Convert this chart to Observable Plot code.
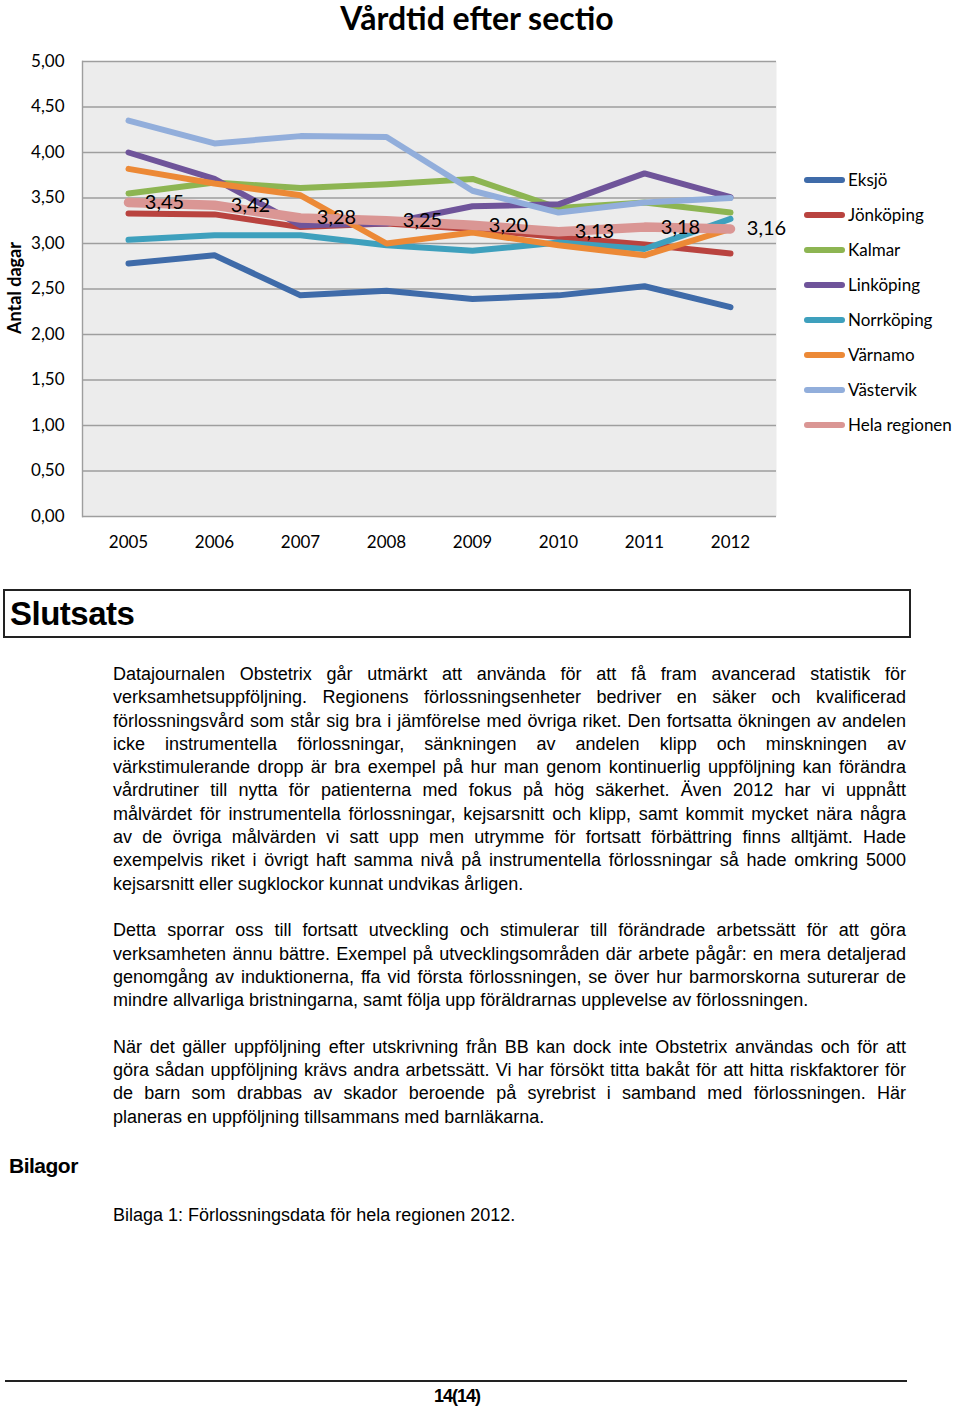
<!DOCTYPE html>
<html lang="sv">
<head>
<meta charset="utf-8">
<script src="https://cdn.jsdelivr.net/npm/d3@7"></script>
<script src="https://cdn.jsdelivr.net/npm/@observablehq/plot@0.6"></script>
<style>
  html, body { margin: 0; padding: 0; background: #fff; }
  body { width: 960px; height: 1410px; position: relative; overflow: hidden; }
  .abs { position: absolute; }
  #title { left: 0; top: -1px; width: 954px; text-align: center; font-family: Lato, sans-serif; font-weight: bold; font-size: 32px; line-height: 38px; color: #000; }
  #chart { left: 0; top: 40px; }
  #ylabel { left: 14px; top: 288px; transform: translate(-50%, -50%) rotate(-90deg); white-space: nowrap; font-family: Lato, sans-serif; font-weight: bold; font-size: 18px; color: #000; }
  #legend { left: 804px; top: 162px; font-family: Lato, sans-serif; font-size: 17px; color: #000; }
  .lg-row { display: flex; align-items: center; height: 35px; }
  .lg-sw { width: 41px; height: 6px; border-radius: 3px; margin-right: 3px; }
  #slutsats { left: 3px; top: 589px; width: 904px; height: 45px; border: 2px solid #222; }
  #slutsats span { position: absolute; left: 5px; top: 3px; font-family: "Liberation Sans", Arial, sans-serif; font-weight: bold; font-size: 33px; line-height: 40px; letter-spacing: -0.5px; }
  .body { left: 113px; width: 793px; font-family: "Liberation Sans", Arial, sans-serif; font-size: 18px; line-height: 23.3px; color: #000; }
  .ln { white-space: nowrap; text-align: justify; text-align-last: justify; height: 23.3px; }
  .ln.last { text-align: left; text-align-last: left; }
  .blank { height: 23.3px; }
  #bilagor { left: 9px; top: 1154px; font-family: "Liberation Sans", Arial, sans-serif; font-weight: bold; font-size: 21px; letter-spacing: -0.5px; }
  #hr { left: 5px; top: 1380px; width: 902px; height: 0; border-top: 2px solid #222; }
  #page { left: 0; width: 914px; top: 1386px; text-align: center; font-family: "Liberation Sans", Arial, sans-serif; font-weight: bold; font-size: 18px; letter-spacing: -1px; }
</style>
</head>
<body>
<div id="title" class="abs">Vårdtid efter sectio</div>
<div id="chart" class="abs"></div>
<div id="ylabel" class="abs">Antal dagar</div>
<div id="legend" class="abs"></div>
<div id="slutsats" class="abs"><span>Slutsats</span></div>
<div id="text" class="abs body" style="top:663px"></div>
<div id="bilagor" class="abs">Bilagor</div>
<div class="abs body" style="top:1204px"><div class="ln last">Bilaga 1: Förlossningsdata för hela regionen 2012.</div></div>
<div id="hr" class="abs"></div>
<div id="page" class="abs">14(14)</div>
<script>
// ---- data ----
const years = ["2005", "2006", "2007", "2008", "2009", "2010", "2011", "2012"];
const seriesNames = ["Eksjö", "Jönköping", "Kalmar", "Linköping", "Norrköping", "Värnamo", "Västervik", "Hela regionen"];
const seriesColors = ["#3f6ba9", "#b9433f", "#8db552", "#6f549a", "#3ea0bd", "#ec8936", "#92aedb", "#da9694"];
const eksjo      = [2.78, 2.87, 2.43, 2.48, 2.39, 2.43, 2.53, 2.30];
const jonkoping  = [3.33, 3.32, 3.18, 3.22, 3.16, 3.07, 2.99, 2.89];
const kalmar     = [3.55, 3.67, 3.61, 3.65, 3.71, 3.39, 3.45, 3.34];
const linkoping  = [4.00, 3.71, 3.20, 3.22, 3.41, 3.43, 3.77, 3.51];
const norrkoping = [3.04, 3.09, 3.09, 2.98, 2.92, 3.01, 2.94, 3.27];
const varnamo    = [3.82, 3.66, 3.53, 3.00, 3.12, 2.98, 2.87, 3.16];
const vastervik  = [4.35, 4.10, 4.18, 4.17, 3.58, 3.34, 3.45, 3.50];
const helaRegionen = [3.45, 3.42, 3.28, 3.25, 3.20, 3.13, 3.18, 3.16];
const yTicks = [0, 0.5, 1, 1.5, 2, 2.5, 3, 3.5, 4, 4.5, 5];

const paragraphs = [
  [
    "Datajournalen Obstetrix går utmärkt att använda för att få fram avancerad statistik för",
    "verksamhetsuppföljning. Regionens förlossningsenheter bedriver en säker och kvalificerad",
    "förlossningsvård som står sig bra i jämförelse med övriga riket. Den fortsatta ökningen av andelen",
    "icke instrumentella förlossningar, sänkningen av andelen klipp och minskningen av",
    "värkstimulerande dropp är bra exempel på hur man genom kontinuerlig uppföljning kan förändra",
    "vårdrutiner till nytta för patienterna med fokus på hög säkerhet. Även 2012 har vi uppnått",
    "målvärdet för instrumentella förlossningar, kejsarsnitt och klipp, samt kommit mycket nära några",
    "av de övriga målvärden vi satt upp men utrymme för fortsatt förbättring finns alltjämt. Hade",
    "exempelvis riket i övrigt haft samma nivå på instrumentella förlossningar så hade omkring 5000",
    "kejsarsnitt eller sugklockor kunnat undvikas årligen."
  ],
  [
    "Detta sporrar oss till fortsatt utveckling och stimulerar till förändrade arbetssätt för att göra",
    "verksamheten ännu bättre. Exempel på utvecklingsområden där arbete pågår: en mera detaljerad",
    "genomgång av induktionerna, ffa vid första förlossningen, se över hur barmorskorna suturerar de",
    "mindre allvarliga bristningarna, samt följa upp föräldrarnas upplevelse av förlossningen."
  ],
  [
    "När det gäller uppföljning efter utskrivning från BB kan dock inte Obstetrix användas och för att",
    "göra sådan uppföljning krävs andra arbetssätt. Vi har försökt titta bakåt för att hitta riskfaktorer för",
    "de barn som drabbas av skador beroende på syrebrist i samband med förlossningen. Här",
    "planeras en uppföljning tillsammans med barnläkarna."
  ]
];

// ---- build table ----
const seriesValues = [eksjo, jonkoping, kalmar, linkoping, norrkoping, varnamo, vastervik, helaRegionen];
const rows = [];
seriesNames.forEach((s, i) => years.forEach((y, j) => rows.push({series: s, year: y, value: seriesValues[i][j]})));
const regionRows = rows.filter(d => d.series === "Hela regionen");
const otherRows = rows.filter(d => d.series !== "Hela regionen");

const sv = d3.formatLocale({decimal: ",", thousands: " ", grouping: [3], currency: ["", " kr"]});
const fmt = sv.format(".2f");

const chart = Plot.plot({
  width: 800,
  height: 530,
  marginLeft: 82,
  marginRight: 24,
  marginTop: 21,
  marginBottom: 54,
  style: {fontFamily: "Lato, sans-serif", fontSize: "17px", color: "#000", background: "transparent"},
  x: {type: "point", domain: years, padding: 0.5},
  y: {domain: [0, 5]},
  color: {domain: seriesNames, range: seriesColors},
  marks: [
    Plot.frame({fill: "#ececec", stroke: null}),
    Plot.ruleY(yTicks, {stroke: "#9e9e9e", strokeWidth: 1.4}),
    Plot.frame({anchor: "left", stroke: "#9e9e9e", strokeWidth: 1.4}),
    Plot.line(otherRows, {x: "year", y: "value", z: "series", stroke: "series", strokeWidth: 6, strokeLinecap: "round", strokeLinejoin: "round"}),
    Plot.line(regionRows, {x: "year", y: "value", z: "series", stroke: "series", strokeWidth: 9.5, strokeLinecap: "round", strokeLinejoin: "round"}),
    Plot.text(regionRows, {x: "year", y: "value", text: d => fmt(d.value), dx: 36, fontSize: 20, fill: "#000"}),
    Plot.axisY(yTicks, {tickSize: 0, tickPadding: 18, tickFormat: fmt, fontSize: 17, label: null}),
    Plot.axisX({tickSize: 0, tickPadding: 19, fontSize: 17, label: null})
  ]
});
document.getElementById("chart").appendChild(chart);

// legend
const legend = document.getElementById("legend");
seriesNames.forEach((s, i) => {
  const row = document.createElement("div");
  row.className = "lg-row";
  const sw = document.createElement("div");
  sw.className = "lg-sw";
  sw.style.background = seriesColors[i];
  const t = document.createElement("span");
  t.textContent = s;
  row.appendChild(sw); row.appendChild(t);
  legend.appendChild(row);
});

// body text
const text = document.getElementById("text");
paragraphs.forEach((p, pi) => {
  if (pi > 0) { const b = document.createElement("div"); b.className = "blank"; text.appendChild(b); }
  p.forEach((line, li) => {
    const d = document.createElement("div");
    d.className = "ln" + (li === p.length - 1 ? " last" : "");
    d.textContent = line;
    text.appendChild(d);
  });
});
</script>
</body>
</html>
